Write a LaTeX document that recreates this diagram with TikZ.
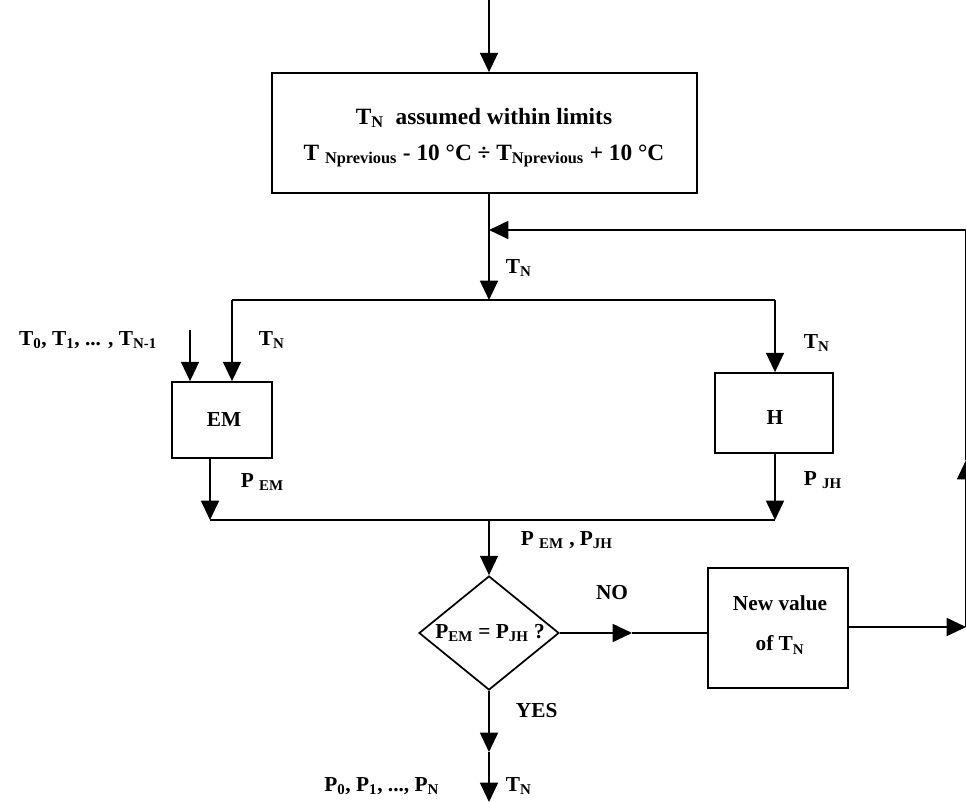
\documentclass[tikz,border=0pt]{standalone}
\usepackage{fontspec}
\setmainfont{Liberation Serif}
\usetikzlibrary{arrows.meta,shapes.geometric}
\begin{document}
\begin{tikzpicture}[x=0.75pt,y=-0.75pt, line width=1.3pt,
  arr/.style={-{Triangle[width=13.5pt,length=14.5pt]}},
  box/.style={draw, line width=1.3pt, inner sep=0pt, rectangle},
  lbl/.style={font=\bfseries\fontsize{16}{18}\selectfont, inner sep=0pt},
  big/.style={font=\bfseries\fontsize{17.5}{20}\selectfont, inner sep=0pt}]
\useasboundingbox (0,0) rectangle (966,802);

% boxes
\node[box, minimum width=318.75pt, minimum height=90pt] (top) at (484.5,133) {};
\node[big] (t1) at (484,118) {T\textsubscript{N} \ assumed within limits};
\node[big] (t2) at (484,156) {T \textsubscript{Nprevious} - 10 °C ÷ T\textsubscript{Nprevious} + 10 °C};

\node[box, minimum width=75pt, minimum height=57pt] (em) at (222,420) {};
\node[lbl] (emt) at (224,420) {EM};
\node[box, minimum width=88.5pt, minimum height=60pt] (h) at (774,413) {};
\node[lbl] (ht) at (775,418) {H};
\node[box, minimum width=105pt, minimum height=90pt] (nv) at (778,628) {};
\node[lbl] (nv1) at (780,603) {New value};
\node[lbl] (nv2) at (780,645) {of T\textsubscript{N}};

\node[draw, diamond, line width=1.3pt, minimum width=105pt, minimum height=85.5pt, inner sep=0pt] (dia) at (489,633) {};
\node[lbl] (diat) at (490,633) {P\textsubscript{EM} = P\textsubscript{JH} ?};

% coordinates
\coordinate (start) at (489,0);
\coordinate (jloop) at (489,230);
\coordinate (jtop) at (489,300);
\coordinate (jl) at (232,300);
\coordinate (jr) at (775,300);
\coordinate (in0) at (190,330);
\coordinate (emo) at (210,458);
\coordinate (jbl) at (210,520);
\coordinate (jbr) at (775,520);
\coordinate (jbm) at (489,520);
\coordinate (mno) at (632,633);
\coordinate (rout) at (966,627);
\coordinate (rb) at (966,627);
\coordinate (rm) at (966,460);
\coordinate (rt) at (966,230);
\coordinate (myes) at (489,752);
\coordinate (fin) at (489,802);

% connectors
\draw[arr] (start) -- (start |- top.north);
\draw[arr] (start |- top.south) -- (jtop);
\draw[arr] (rt) -- (jloop);
\draw (jl) -- (jr);
\draw[arr] (jl) -- (jl |- em.north);
\draw[arr] (in0) -- (in0 |- em.north);
\draw[arr] (jr) -- (jr |- h.north);
\draw[arr] (emo) -- (jbl);
\draw[arr] (jr |- h.south) -- (jbr);
\draw (jbl) -- (jbr);
\draw[arr] (jbm) -- (dia.north);
\draw[arr] (dia.east) -- (mno);
\draw (mno) -- (nv.west |- mno);
\draw[arr] (nv.east |- rout) -- (rout);
\draw[arr] (rb) -- (rm);
\draw (rm) -- (rt);
\draw[arr] (dia.south) -- (myes);
\draw[arr] (myes) -- (fin);

% labels
\node[lbl, anchor=west] (l1) at (505,268) {T\textsubscript{N}};
\node[lbl] (l2) at (88,340) {T\textsubscript{0}, T\textsubscript{1}, ... , T\textsubscript{N-1}};
\node[lbl, anchor=west] (l3) at (258,340) {T\textsubscript{N}};
\node[lbl, anchor=west] (l4) at (803,343) {T\textsubscript{N}};
\node[lbl, anchor=west] (l5) at (240,482) {P \textsubscript{EM}};
\node[lbl, anchor=west] (l6) at (803,480) {P \textsubscript{JH}};
\node[lbl, anchor=west] (l7) at (520,540) {P \textsubscript{EM} , P\textsubscript{JH}};
\node[lbl] (l8) at (612,593) {NO};
\node[lbl, anchor=west] (l9) at (515,711) {YES};
\node[lbl, anchor=east] (l10) at (440,786) {P\textsubscript{0}, P\textsubscript{1}, ..., P\textsubscript{N}};
\node[lbl, anchor=west] (l11) at (505,786) {T\textsubscript{N}};
\end{tikzpicture}
\end{document}
